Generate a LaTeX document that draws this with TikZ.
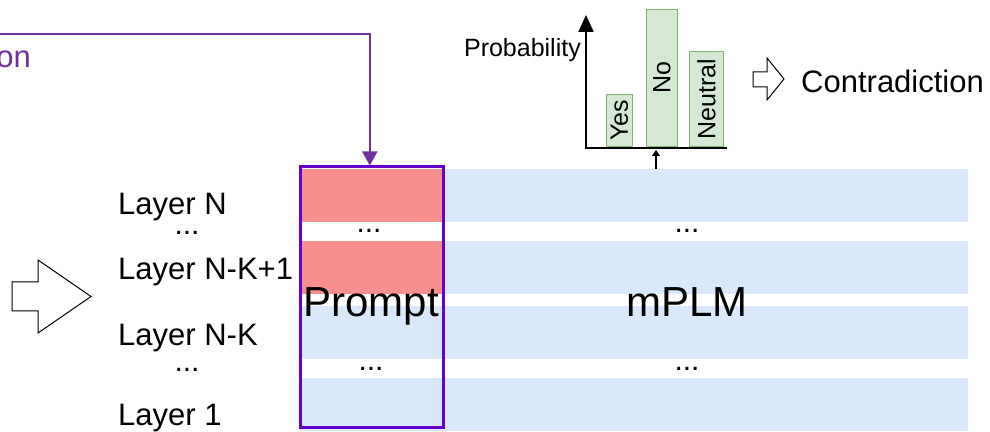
\documentclass[tikz,border=0pt]{standalone}
\usepackage{fontspec}
\setmainfont{Liberation Sans}
\usetikzlibrary{arrows.meta,positioning}

\definecolor{bandblue}{HTML}{DAE8FC}
\definecolor{promptred}{HTML}{F78F8F}
\definecolor{barfill}{HTML}{D5E8D4}
\definecolor{barline}{HTML}{82B366}
\definecolor{boxpurple}{HTML}{6600CC}
\definecolor{linkpurple}{HTML}{7030A0}

\tikzset{
  band/.style={fill=bandblue, minimum width=668pt, minimum height=53pt, anchor=south west, inner sep=0pt},
  cell/.style={fill=promptred, minimum width=143pt, minimum height=53pt, anchor=south west, inner sep=0pt},
  bar/.style={fill=barfill, draw=barline, line width=1pt, anchor=south west, inner sep=0pt},
  layer/.style={anchor=base west, inner sep=0pt, font=\fontsize{31}{36}\selectfont},
  gapdots/.style={inner sep=0pt, font=\fontsize{30}{36}\selectfont},
  hollow/.style={draw=black, fill=white, line width=1pt},
}

\begin{document}
\begin{tikzpicture}[x=1pt, y=1pt, >=Stealth]
\useasboundingbox (0,0) rectangle (990,431);

% layers of the model
\node[band] (row4) at (300,0) {};
\node[band] (row3) at (300,72) {};
\node[band] (row2) at (300,137) {};
\node[band] (row1) at (300,209) {};
% prompt vectors in the top K layers
\node[cell] (cell2) at (300,137) {};
\node[cell] (cell1) at (300,209) {};
\node[draw=boxpurple, line width=3pt, minimum width=143pt, minimum height=260pt, anchor=south west, inner sep=0pt] (prompt) at (298.8,2.5) {};

\node[font=\fontsize{42}{48}\selectfont, anchor=base] (prompttext) at (371,114) {Prompt};
\node[font=\fontsize{42}{48}\selectfont, anchor=base] (plm) at (687,114) {mPLM};
\node[gapdots] at (369,200) {...};
\node[gapdots] at (687,200) {...};
\node[gapdots] at (371,62) {...};
\node[gapdots] at (687,62) {...};

% layer names
\node[layer] (ln) at (118,216) {Layer N};
\node[gapdots] at (187,198) {...};
\node[layer] (lnk1) at (118,151) {Layer N-K+1};
\node[layer] (lnk) at (118,85) {Layer N-K};
\node[gapdots] at (187,61) {...};
\node[layer] (l1) at (118,6) {Layer 1};

\draw[hollow] (12,120) -- (38,120) -- (38,98) -- (91,134.5) -- (38,171) -- (38,149) -- (12,149) -- cycle;

% instruction goes into the prompt
\coordinate (src) at (0,397);
\node[text=linkpurple, font=\fontsize{31}{36}\selectfont, anchor=base east, inner sep=0pt] (srclabel) at (31,363) {on};
\draw[linkpurple, line width=2pt, -{Triangle[length=14pt,width=15pt]}] (src) -| ([xshift=-2pt]prompt.north);

% output distribution
\coordinate (origin) at (586,283);
\coordinate (out) at (656,281);
\node[bar, minimum width=26pt, minimum height=52pt] (yes) at (606,284) {};
\node[bar, minimum width=31pt, minimum height=137pt] (no) at (646,284) {};
\node[bar, minimum width=34pt, minimum height=95pt] (neutral) at (689,284) {};
\node[rotate=90, font=\fontsize{25}{30}\selectfont] at (yes) {Yes};
\node[rotate=90, font=\fontsize{25}{30}\selectfont] at (no) {No};
\node[rotate=90, font=\fontsize{25}{30}\selectfont] at (neutral) {Neutral};
\draw[line width=2pt, -{Triangle[length=17pt,width=15pt]}] (origin) -- (586,416);
\draw[line width=2pt] (585,283) -- (727,283);
\node[font=\fontsize{25}{30}\selectfont, anchor=base east, inner sep=0pt] (prob) at (581,374) {Probability};
\draw[line width=2pt, -{Triangle[length=6pt,width=8pt]}] (row1.north -| out) -- (out);

\draw[hollow] (753,344) -- (767,344) -- (767,331) -- (784,352) -- (767,373) -- (767,359) -- (753,359) -- cycle;
\node[font=\fontsize{31}{36}\selectfont, anchor=base west, inner sep=0pt] (verdict) at (801,338) {Contradiction};
\end{tikzpicture}
\end{document}
